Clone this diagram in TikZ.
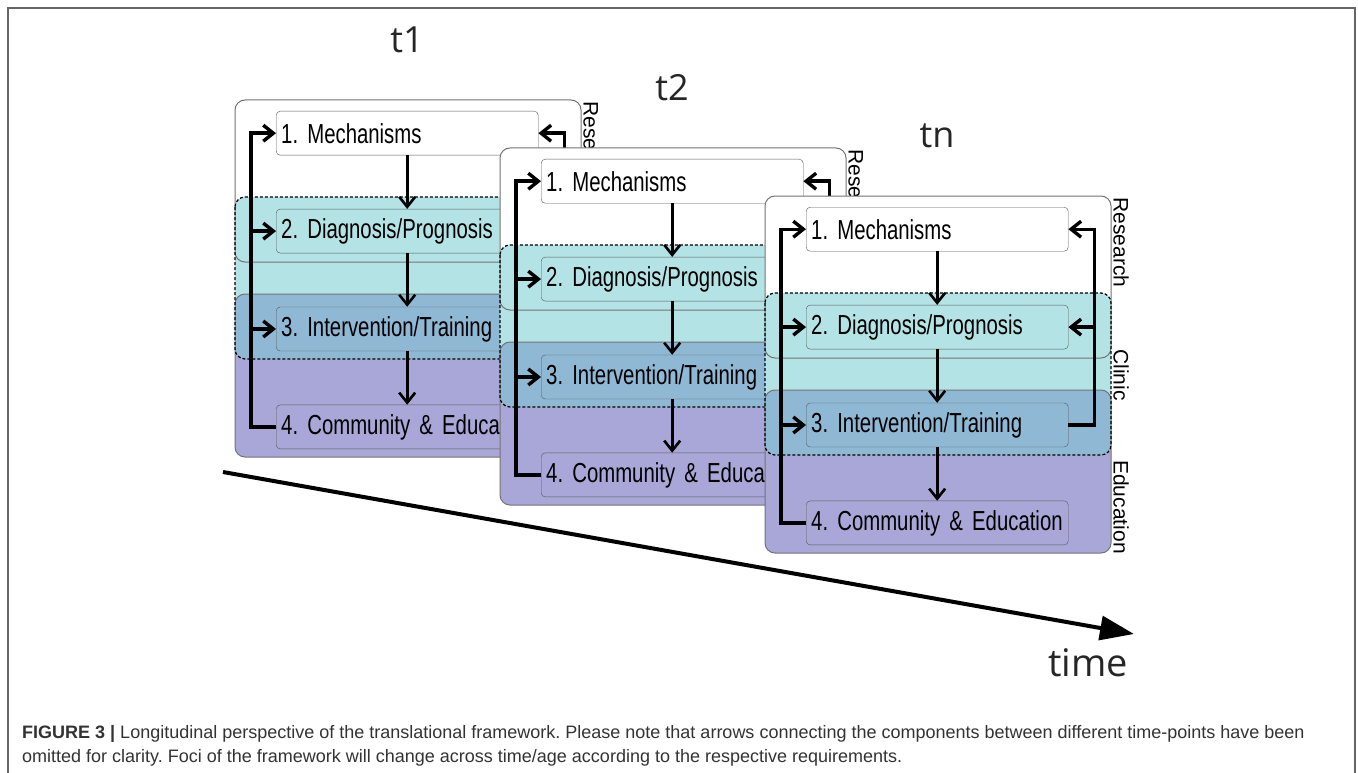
\documentclass[tikz,border=0pt]{standalone}
\usepackage{fontspec}
\setmainfont{Liberation Sans}
\newfontfamily\boxfont[FakeStretch=0.74,WordSpace=0.85]{Liberation Sans}
\newfontfamily\titlefont{Open Sans}
\usetikzlibrary{arrows.meta,positioning}

\definecolor{cliniccyan}{HTML}{B4E3E6}
\definecolor{overlapblue}{HTML}{8FB8D4}
\definecolor{edupurple}{HTML}{A8A7D7}
\definecolor{framegray}{HTML}{666666}
\definecolor{textgray}{HTML}{333333}

\tikzset{
  box/.style={draw=black!65, rounded corners=4pt, text width=252pt, align=left,
    inner xsep=5pt, inner ysep=0pt, minimum height=44pt,
    font=\boxfont\fontsize{27.5}{30}\selectfont},
  sidelabel/.style={rotate=-90, font=\fontsize{21}{23}\selectfont},
  tlabel/.style={font=\titlefont\fontsize{36}{40}\selectfont, text=black!85},
  downarrow/.style={line width=2.6pt, -{Straight Barb[length=10pt,width=16pt]}},
  looparrow/.style={line width=3.4pt, -{Straight Barb[length=10pt,width=16pt]}},
  regionborder/.style={draw=black!55, line width=1pt, rounded corners=10pt},
  caption/.style={anchor=base west, inner sep=0pt, text=textgray,
    font=\fontsize{18}{22}\selectfont}
}

\begin{document}
\frenchspacing
\begin{tikzpicture}[x=1pt,y=-1pt]

\useasboundingbox (0,0) rectangle (1358,773);
\fill[white] (0,0) rectangle (1358,773);
\clip (0,0) rectangle (1358,773);

% outer frame
\draw[framegray, line width=1.5pt] (8,8) rectangle (1355,800);

% the three time points
\foreach \t/\px/\py in {1/235/100, 2/500/148, n/765/196} {
\begin{scope}[shift={(\px,\py)}]

% regions
\fill[white, rounded corners=10pt] (0,0) rectangle (346,162);
\fill[edupurple, rounded corners=10pt] (0,194) rectangle (346,357);
\fill[cliniccyan, rounded corners=10pt] (0,97) rectangle (346,259);
\begin{scope}
\clip[rounded corners=10pt] (0,194) rectangle (346,357);
\fill[overlapblue, rounded corners=10pt] (0,97) rectangle (346,259);
\end{scope}
\draw[regionborder] (0,0) rectangle (346,162);
\draw[regionborder] (0,194) rectangle (346,357);
\draw[regionborder, draw=black, line width=1.2pt, dash pattern=on 3pt off 2pt] (0,97) rectangle (346,259);

\node[tlabel] (ttl\t) at (172,-60) {t\t};

\node[box, fill=white, anchor=north west] (mech\t) at (41,11) {1. Mechanisms};
\node[box, below=53.5pt of mech\t] (diag\t) {2. Diagnosis/Prognosis};
\node[box, below=53.5pt of diag\t] (interv\t) {3. Intervention/Training};
\node[box, below=53.5pt of interv\t] (comm\t) {4. Community \& Education};

\draw[downarrow] (mech\t.south) -- (diag\t.north);
\draw[downarrow] (diag\t.south) -- (interv\t.north);
\draw[downarrow] (interv\t.south) -- (comm\t.north);

% feedback on the left
\draw[looparrow] (comm\t.west) -- ++(-25,0) |- (mech\t.west);
\draw[looparrow] ([xshift=-25pt]diag\t.west) -- (diag\t.west);
\draw[looparrow] ([xshift=-25pt]interv\t.west) -- (interv\t.west);

% feedback on the right
\draw[looparrow] (interv\t.east) -- ++(26,0) |- (mech\t.east);
\draw[looparrow] ([xshift=26pt]diag\t.east) -- (diag\t.east);

\node[sidelabel] (res\t) at (356,46.5) {Research};
\node[sidelabel] (cli\t) at (356,179) {Clinic};
\node[sidelabel] (edu\t) at (356,311) {Education};

\end{scope}
}

% time axis
\coordinate (tstart) at (223,472);
\coordinate (tend) at (1134,634);
\draw[line width=4pt, -{Triangle[length=34pt,width=24pt]}] (tstart) -- (tend);
\node[tlabel, anchor=base, font=\titlefont\fontsize{38}{42}\selectfont] (timelbl) at (1088,676) {time};

% caption
\node[caption] (cap1) at (22,738) {\textbf{FIGURE 3 |} Longitudinal perspective of the translational framework. Please note that arrows connecting the components between different time-points have been};
\node[caption] (cap2) at (22,762) {omitted for clarity. Foci of the framework will change across time/age according to the respective requirements.};

\end{tikzpicture}
\end{document}
